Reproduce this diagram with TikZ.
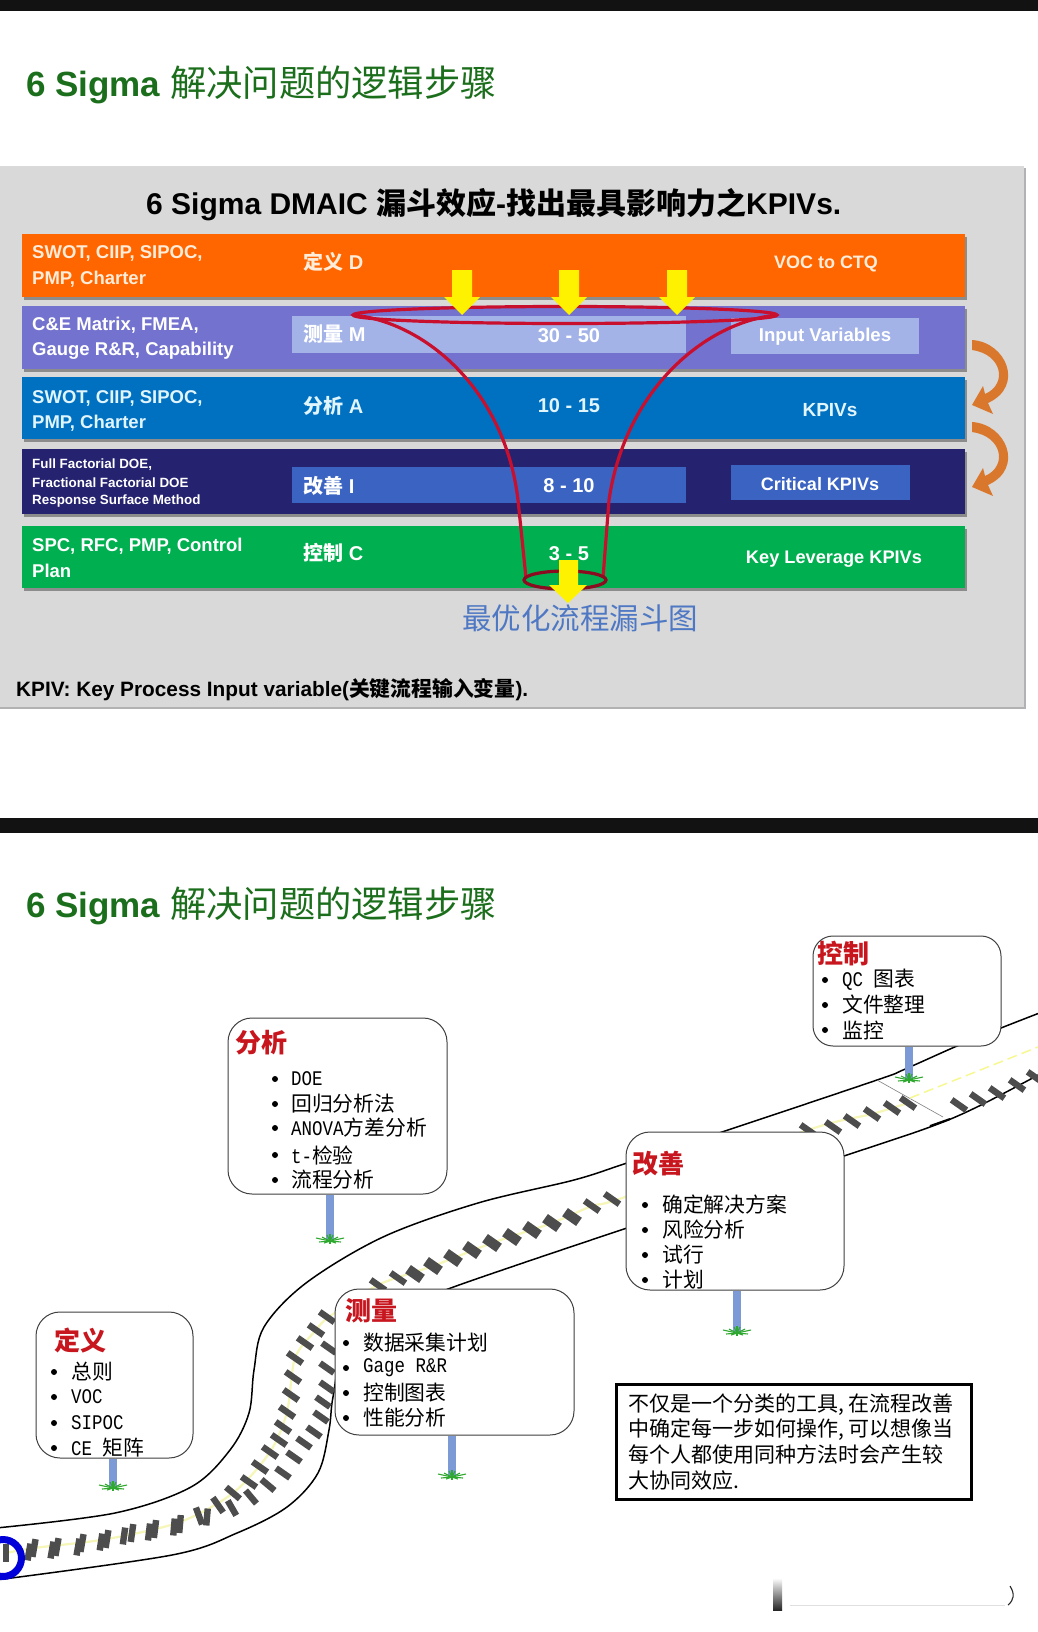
\documentclass[tikz,border=0pt]{standalone}
\usepackage{fontspec}
\setmainfont{Liberation Sans}
\newfontfamily\cjk{Noto Sans CJK SC}
\newfontfamily\monof[FakeStretch=0.84]{Liberation Mono}
\newcommand\fsz[1]{\fontsize{#1}{#1}\selectfont}
\newcommand\zh[1]{{\cjk #1}}
\definecolor{panel}{HTML}{D9D9D9}
\definecolor{cOrange}{HTML}{FF6600}
\definecolor{cPurple}{HTML}{7373CF}
\definecolor{cBlue}{HTML}{0070C0}
\definecolor{cNavy}{HTML}{25226F}
\definecolor{cGreen}{HTML}{00AF50}
\definecolor{cLight}{HTML}{A3B3E8}
\definecolor{cMid}{HTML}{3A63C2}
\definecolor{funnelred}{HTML}{C8102E}
\definecolor{titlegreen}{HTML}{1B6E1B}
\definecolor{arrorange}{HTML}{D9782D}
\definecolor{postblue}{HTML}{7C9AD6}
\definecolor{tickgrey}{HTML}{4D4D4D}
\definecolor{lane}{HTML}{F6F6B8}
\definecolor{redhead}{HTML}{C8161E}
\definecolor{grassgreen}{HTML}{2EA82E}
\definecolor{capblue}{HTML}{4F78C4}
\tikzset{
  x=1pt,y=-1pt,
  barshadow/.style={fill=black!45,draw=none},
  bartext/.style={anchor=west,inner sep=0pt,font=\bfseries\fsz{18.5},align=left},
  midtext/.style={anchor=center,inner sep=0pt,font=\bfseries\fsz{20}},
  pagetitle/.style={anchor=west,inner sep=0pt,text=titlegreen},
  funnel/.style={draw=funnelred,line width=3.2pt},
  yellowarrow/.style={fill=yellow,draw=none},
  roadedge/.style={draw=black,line width=1.5pt,line join=round},
  lanecentre/.style={draw=lane,line width=2.2pt},
  callout/.style={draw=black!75,fill=white,line width=1pt,rounded corners=24pt,inner sep=0pt},
  headtext/.style={anchor=west,inner sep=0pt,text=redhead,font=\bfseries\fsz{26}},
  itemtext/.style={anchor=west,inner sep=0pt,font=\fsz{20.8}},
  post/.style={draw=postblue,line width=8.5pt},
  grassline/.style={draw=grassgreen,line width=1.1pt},
}
\newcommand\grassat[1]{%
  \foreach \dx/\dy in {-14/-3,-11/1,-8/-4,-6/2,-3/-6,0/-7,0/3,3/-6,6/2,8/-4,11/1,14/-3}{
    \draw[grassline] (#1) -- ++(\dx,\dy);}}
\newcommand\bul[2]{\fill (#1,#2) circle (3);}
% tick: full width, half length, list of x/y/tilt (0 = upright, + leans like a backslash)
\newcommand\ticks[3]{%
  \foreach \tx/\ty/\ta in {#3}{
    \draw[tickgrey,line width=#1pt] ({\tx-#2*sin(\ta)},{\ty-#2*cos(\ta)}) -- ({\tx+#2*sin(\ta)},{\ty+#2*cos(\ta)});}}
\begin{document}
\begin{tikzpicture}
\useasboundingbox (0,0) rectangle (1038,1632);
\fill[white] (0,0) rectangle (1038,1632);
% black bars
\fill[black!93] (0,0) rectangle (1038,11);
\fill[black!93] (0,818) rectangle (1038,833);
% titles
\node[pagetitle] (title1) at (26,85) {\bfseries\fsz{35}6 Sigma \zh{\mdseries\fsz{36.3}解决问题的逻辑步骤}};
\node[pagetitle] (title2) at (26,906) {\bfseries\fsz{35}6 Sigma \zh{\mdseries\fsz{36.3}解决问题的逻辑步骤}};
% panel
\fill[black!30] (0,168) rectangle (1026,709);
\fill[panel] (0,166) rectangle (1024,707);
\node[anchor=west,inner sep=0pt,font=\bfseries\fsz{30}] (main) at (146,205) {6 Sigma DMAIC \zh{漏斗效应}-\zh{找出最具影响力之}KPIVs.};
% bars
\foreach \ya/\yb/\c in {234/297/cOrange,306/369/cPurple,377/439/cBlue,449/514/cNavy,526/588/cGreen}{
  \fill[barshadow] (24,\ya+3) rectangle (967,\yb+3);
  \fill[\c] (22,\ya) rectangle (965,\yb);
}
\fill[cLight] (292,316) rectangle (686,353);
\fill[cLight] (731,318) rectangle (919,354);
\fill[cMid] (292,467) rectangle (686,503);
\fill[cMid] (731,465) rectangle (910,500);
% bar labels
\node[bartext,text=orange!15!white] (l1a) at (32,253) {SWOT, CIIP, SIPOC,};
\node[bartext,text=orange!15!white] (l1b) at (32,279) {PMP, Charter};
\node[bartext,text=white] (l2a) at (32,325) {C\&E Matrix, FMEA,};
\node[bartext,text=white] (l2b) at (32,351) {Gauge R\&R, Capability};
\node[bartext,text=cyan!12!white] (l3a) at (32,398) {SWOT, CIIP, SIPOC,};
\node[bartext,text=cyan!12!white] (l3b) at (32,423) {PMP, Charter};
\node[bartext,font=\bfseries\fsz{13.4},text=white] (l4a) at (32,465) {Full Factorial DOE,};
\node[bartext,font=\bfseries\fsz{13.4},text=white] (l4b) at (32,483) {Fractional Factorial DOE};
\node[bartext,font=\bfseries\fsz{13.4},text=white] (l4c) at (32,501) {Response Surface Method};
\node[bartext,text=white] (l5a) at (32,546) {SPC, RFC, PMP, Control};
\node[bartext,text=white] (l5b) at (32,571) {Plan};
\node[bartext,font=\bfseries\fsz{20},text=orange!15!white] (s1) at (303,262) {\zh{定义} D};
\node[bartext,font=\bfseries\fsz{20},text=white] (s2) at (303,334) {\zh{测量} M};
\node[bartext,font=\bfseries\fsz{20},text=cyan!12!white] (s3) at (303,406) {\zh{分析} A};
\node[bartext,font=\bfseries\fsz{20},text=white] (s4) at (303,486) {\zh{改善} I};
\node[bartext,font=\bfseries\fsz{20},text=white] (s5) at (303,553) {\zh{控制} C};
\node[midtext,text=white] (n2) at (569,336) {30 - 50};
\node[midtext,text=cyan!12!white] (n3) at (569,406) {10 - 15};
\node[midtext,text=white] (n4) at (569,486) {8 - 10};
\node[midtext,text=white] (n5) at (569,554) {3 - 5};
\node[midtext,font=\bfseries\fsz{18},text=orange!15!white] (r1) at (826,264) {VOC to CTQ};
\node[midtext,font=\bfseries\fsz{18.6},text=white] (r2) at (825,337) {Input Variables};
\node[midtext,font=\bfseries\fsz{19},text=cyan!12!white] (r3) at (830,410) {KPIVs};
\node[midtext,font=\bfseries\fsz{18},text=white] (r4) at (820,484) {Critical KPIVs};
\node[midtext,font=\bfseries\fsz{18.2},text=white] (r5) at (834,559) {Key Leverage KPIVs};
% funnel
\draw[funnel] (565,315) ellipse [x radius=212,y radius=8.5];
\draw[funnel] (353,315) .. controls (425,322) and (505,390) .. (518,500) -- (526,578);
\draw[funnel] (777,315) .. controls (705,322) and (625,390) .. (609,500) -- (603,578);
\draw[funnel,draw=funnelred!70!black] (565,580) ellipse [x radius=41,y radius=9];
% yellow arrows
\foreach \ax in {462,569,677}{
  \fill[yellowarrow] (\ax-10,270) -- (\ax+10,270) -- (\ax+10,297) -- (\ax+18,297) -- (\ax,315) -- (\ax-18,297) -- (\ax-10,297) -- cycle;
}
\fill[yellowarrow] (559,560) -- (578,560) -- (578,585) -- (587,585) -- (568,603) -- (549,585) -- (559,585) -- cycle;
% curved orange arrows
\foreach \sy in {0,82}{
  \fill[arrorange] (972,340+\sy) .. controls (1006,342+\sy) and (1025,386+\sy) .. (988,403+\sy)
     -- (993,414+\sy) -- (972,405+\sy) -- (983,386+\sy) -- (985,394+\sy)
     .. controls (1008,384+\sy) and (1002,354+\sy) .. (972,350+\sy) -- cycle;
}
% captions
\node[anchor=center,inner sep=0pt,text=capblue,font=\fsz{29.5}\cjk] (cap) at (580,618) {最优化流程漏斗图};
\node[anchor=west,inner sep=0pt,font=\bfseries\fsz{20.8}] (foot) at (16,690) {KPIV: Key Process Input variable(\zh{关键流程输入变量}).};
% road
\draw[roadedge] plot[smooth,tension=.55] coordinates {(-4,1528) (115,1513) (191,1487) (230,1450) (249,1413) (254,1370) (264,1327) (306,1283) (383,1237) (478,1203) (574,1180) (627,1163) (722,1132) (877,1080) (903,1070) (957,1046) (1001,1028) (1042,1012)};
\draw[roadedge] plot[smooth,tension=.55] coordinates {(-4,1580) (172,1555) (237,1533) (287,1507) (318,1473) (329,1430) (333,1397) (345,1350) (390,1312) (448,1289) (517,1265) (600,1237) (627,1228) (844,1156) (930,1127) (977,1107) (1042,1073)};
\draw[draw=black!50,line width=.6pt] (877,1080) -- (943,1117);
\draw[line width=2pt] (930,1126) -- (950,1119);
\draw[lanecentre] plot[smooth,tension=.5] coordinates {(6,1553) (34,1548) (107,1539) (180,1522) (233,1493) (270,1452) (287,1412) (295,1358) (316,1330) (329,1317) (378,1285) (433,1266) (492,1243) (552,1223) (592,1206) (625,1197) (808,1130) (872,1114) (908,1103)};
\draw[draw=lane!80!yellow,line width=1.5pt,dash pattern=on 10pt off 5pt] (910,1098) -- (1038,1047);
\ticks{6.4}{9}{6/1553/0,34/1548/-10,57/1547/-10,82/1543/-10,107/1539/-9,132/1533/-8,155/1529/-7,180/1524/-5,199/1516/20,218/1505/35,233/1493/50,249/1482/55,260/1467/55,270/1452/55,279/1440/55,283/1427/55,287/1412/55,291/1395/55,293/1377/55,295/1358/55,305/1343/55,316/1330/55,327/1317/55,378/1285/55,398/1278/55,592/1206/55,612/1199/55,808/1130/55,833/1127/55,852/1121/55,872/1114/55,892/1108/55,908/1103/55,959/1105/55,978/1099/55,997/1093/55,1017/1085/55,1035/1077/55}
\ticks{10}{8.5}{415/1274/55,433/1266/55,453/1258/55,472/1250/55,492/1243/55,512/1237/55,532/1230/55,552/1223/55,572/1217/55}
\ticks{6.4}{8.5}{29/1552/-10,52/1550/-10,78/1547/-10,101/1542/-9,124/1536/-8,149/1532/-7,174/1527/-5,207/1517/-5,232/1508/30,251/1497/40,268/1485/50,283/1473/55,294/1457/55,304/1443/55,314/1432/55,321/1417/55,323/1402/55,327/1387/55,327/1368/55,329/1348/55}
% start ring
\draw[draw=blue!85!black,line width=7pt] (3,1558) circle (18.5);
% callouts
\node[callout,minimum width=157pt,minimum height=146pt] (bDef) at (114.5,1385) {};
\node[callout,minimum width=239pt,minimum height=146pt] (bMea) at (454.5,1362) {};
\node[callout,minimum width=219pt,minimum height=176pt] (bAna) at (337.5,1106) {};
\node[callout,minimum width=218pt,minimum height=158pt] (bImp) at (735,1211) {};
\node[callout,minimum width=188pt,minimum height=110pt,rounded corners=20pt] (bCtl) at (907,991) {};
% posts and grass
\coordinate (gDef) at (113,1488);
\coordinate (gMea) at (452,1477);
\coordinate (gAna) at (330,1241);
\coordinate (gImp) at (737,1333);
\coordinate (gCtl) at (909,1080);
\draw[post] (bDef.south -| gDef) -- (gDef);
\draw[post] (bMea.south -| gMea) -- (gMea);
\draw[post] (bAna.south -| gAna) -- (gAna);
\draw[post] (bImp.south -| gImp) -- (gImp);
\draw[post] (bCtl.south -| gCtl) -- (gCtl);
\grassat{gDef}\grassat{gMea}\grassat{gAna}\grassat{gImp}\grassat{gCtl}
% callout text
\node[headtext] (hDef) at (54,1340) {\zh{定义}};
\node[itemtext] (d1) at (71,1372) {\zh{总则}};
\node[itemtext] (d2) at (71,1397) {\monof VOC};
\node[itemtext] (d3) at (71,1423) {\monof SIPOC};
\node[itemtext] (d4) at (71,1448) {\monof CE \zh{矩阵}};
\bul{54}{1372}\bul{54}{1397}\bul{54}{1423}\bul{54}{1448}
\node[headtext] (hMea) at (345,1311) {\zh{测量}};
\node[itemtext] (m1) at (363,1343) {\zh{数据采集计划}};
\node[itemtext] (m2) at (363,1368) {\monof Gage R\&R};
\node[itemtext] (m3) at (363,1393) {\zh{控制图表}};
\node[itemtext] (m4) at (363,1418) {\zh{性能分析}};
\bul{346}{1343}\bul{346}{1368}\bul{346}{1393}\bul{346}{1418}
\node[headtext] (hAna) at (235,1043) {\zh{分析}};
\node[itemtext] (a1) at (291,1079) {\monof DOE};
\node[itemtext] (a2) at (291,1104) {\zh{回归分析法}};
\node[itemtext] (a3) at (291,1128) {\monof ANOVA\zh{方差分析}};
\node[itemtext] (a4) at (291,1155) {\monof t-\zh{检验}};
\node[itemtext] (a5) at (291,1180) {\zh{流程分析}};
\bul{275}{1079}\bul{275}{1104}\bul{275}{1128}\bul{275}{1155}\bul{275}{1180}
\node[headtext] (hImp) at (632,1164) {\zh{改善}};
\node[itemtext] (i1) at (662,1205) {\zh{确定解决方案}};
\node[itemtext] (i2) at (662,1230) {\zh{风险分析}};
\node[itemtext] (i3) at (662,1255) {\zh{试行}};
\node[itemtext] (i4) at (662,1280) {\zh{计划}};
\bul{645}{1205}\bul{645}{1230}\bul{645}{1255}\bul{645}{1280}
\node[headtext] (hCtl) at (817,954) {\zh{控制}};
\node[itemtext] (c1) at (842,980) {\monof QC \zh{图表}};
\node[itemtext] (c2) at (842,1005) {\zh{文件整理}};
\node[itemtext] (c3) at (842,1030) {\zh{监控}};
\bul{825}{980}\bul{825}{1005}\bul{825}{1030}
% note box
\node[draw=black,line width=3pt,fill=white,minimum width=355pt,minimum height=115pt,inner sep=0pt] (note) at (793.5,1441.5) {};
\node[anchor=west,inner sep=0pt,font=\fsz{21}\cjk] (t1) at (628,1405) {不仅是一个分类的工具, 在流程改善};
\node[anchor=west,inner sep=0pt,font=\fsz{21}\cjk] (t2) at (628,1430) {中确定每一步如何操作, 可以想像当};
\node[anchor=west,inner sep=0pt,font=\fsz{21}\cjk] (t3) at (628,1455) {每个人都使用同种方法时会产生较};
\node[anchor=west,inner sep=0pt,font=\fsz{21}\cjk] (t4) at (628,1480) {大协同效应.};
% bottom artefact
\shade[top color=white,bottom color=black!85] (773,1578) rectangle (782,1610);
\draw[black!12,line width=.7pt] (790,1605) -- (1005,1605);
\draw[black!85,line width=1.1pt] (1010,1586) .. controls (1015,1594) and (1014,1600) .. (1008,1605);
\end{tikzpicture}
\end{document}
